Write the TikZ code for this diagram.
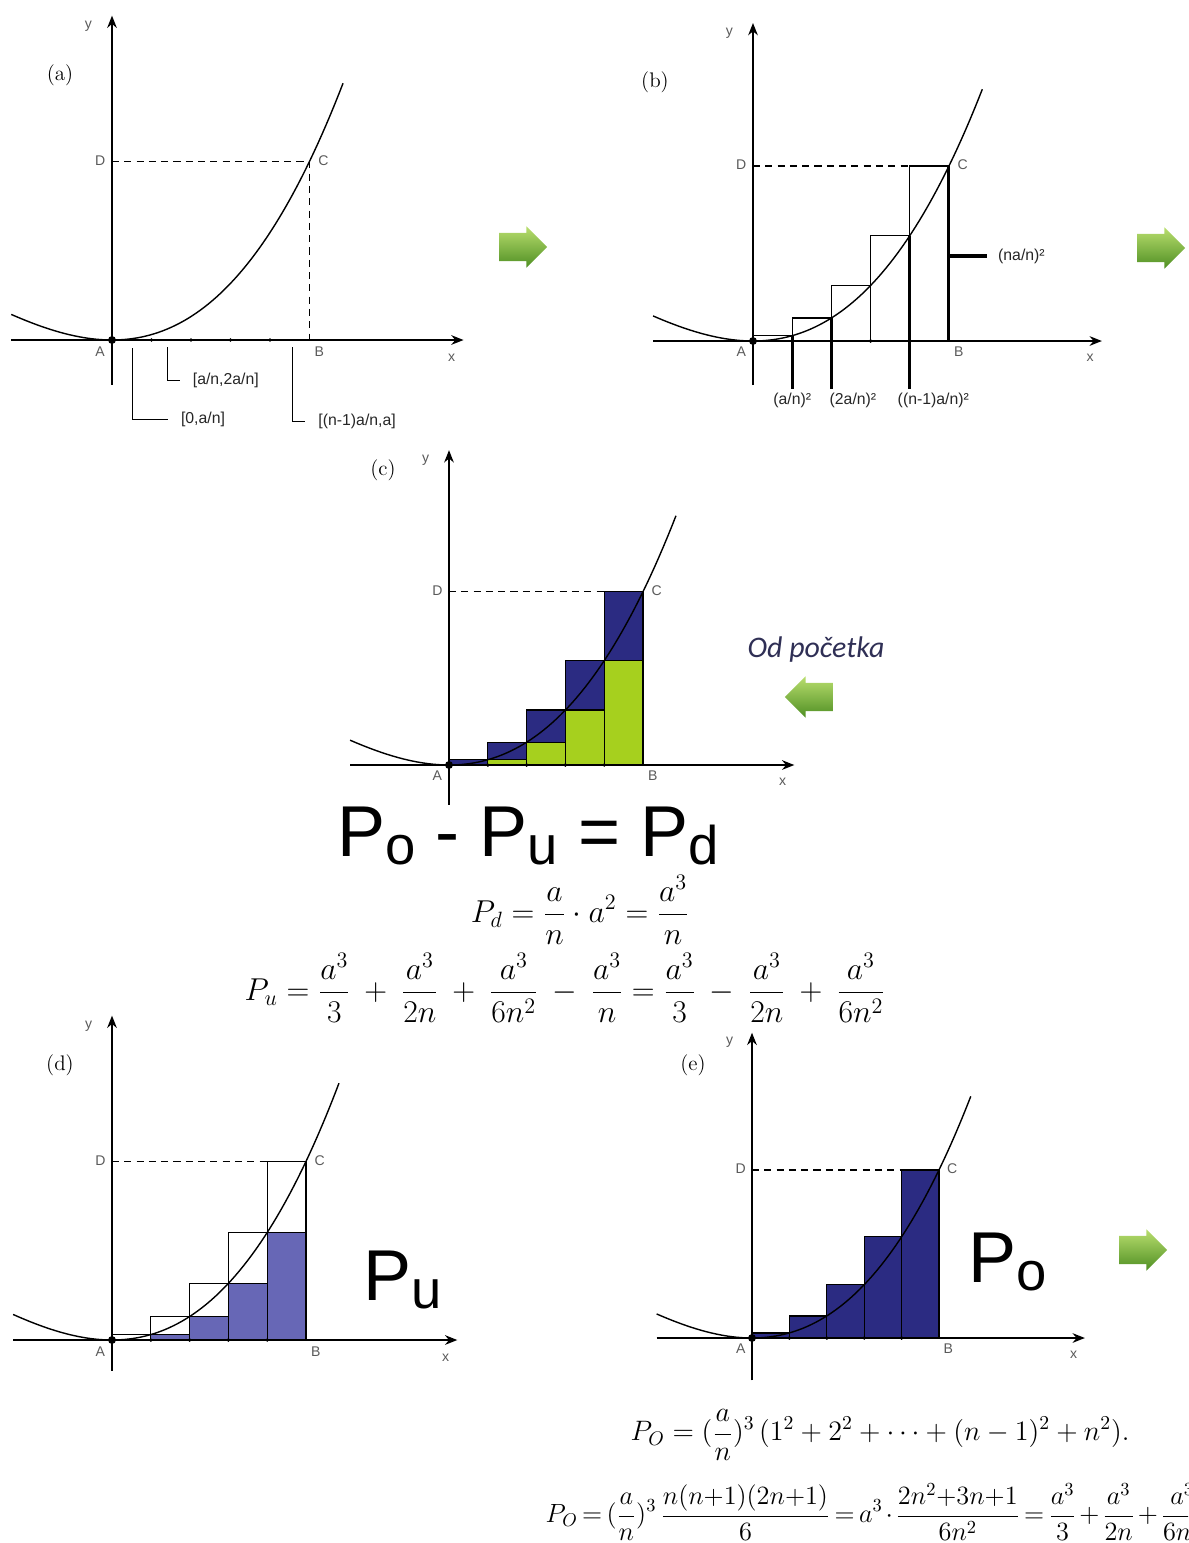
\RequirePackage{fix-cm}
\documentclass[tikz,border=0pt]{standalone}
\usepackage{fontspec}
\setsansfont{Liberation Sans}
\newfontfamily\calibri{Carlito}
\usetikzlibrary{arrows.meta, shapes.arrows}
\definecolor{cnavy}{HTML}{2B2B82}
\definecolor{clime}{HTML}{A6D01E}
\definecolor{cviolet}{HTML}{6767B6}
\definecolor{cgreen}{HTML}{4F8F23}
\definecolor{clight}{HTML}{B9DE6E}
\definecolor{cgrey}{HTML}{5A5A5A}
\definecolor{cink}{HTML}{2F2F55}
\newcommand{\lowsub}[1]{\raisebox{-0.1em}{\fontsize{31}{31}\selectfont #1}}
% axes, curve and the points A, B, C, D of one panel
\newcommand{\drawframe}[2]{%
  \coordinate (#1-A) at (0,0);
  \coordinate (#1-B) at (5,0);
  \coordinate (#1-C) at (5,{fc(5)});
  \coordinate (#1-D) at (0,{fc(5)});
  \draw[axisline] (-2.55,0) -- (8.9,0);
  \draw[axisline] (0,-#2) -- (0,318);
  \draw[curve] plot[domain=-2.55:5.85, samples=80] (\x,{fc(\x)});
  \draw[guide] (#1-D) -- (#1-C);
  \node[adot] (#1-a0) at (#1-A) {};
  \foreach \i in {1,...,4} \node[sdot] (#1-k\i) at (\i,0) {};
  \node[lbl] (#1-tA) at (-0.3,-11) {A};
  \node[lbl] (#1-tB) at (5.25,-11) {B};
  \node[lbl] (#1-tC) at (5.35,{fc(5)+1}) {C};
  \node[lbl] (#1-tD) at (-0.3,{fc(5)+1}) {D};
  \node[lbl] (#1-tx) at (8.6,-17) {x};
  \node[lbl] (#1-ty) at (-0.6,308) {y};
}
\tikzset{
  every picture/.style={line width=0.7pt},
  declare function={fc(\t)=4.92*\t*\t+0.4167*\t*\t*\t;},
  axisline/.style={-{Stealth[length=7pt, width=5.5pt]}, line width=0.8pt},
  curve/.style={line width=0.8pt},
  guide/.style={dash pattern=on 4pt off 3pt, line width=0.8pt},
  heavy/.style={line width=1.8pt},
  adot/.style={circle, fill, inner sep=0pt, minimum size=4.5pt},
  sdot/.style={circle, fill, inner sep=0pt, minimum size=2.2pt},
  lbl/.style={font=\sffamily\fontsize{8}{9}\selectfont, text=cgrey, inner sep=0pt},
  note/.style={font=\sffamily\fontsize{9}{10}\selectfont, text=black!85, inner xsep=0pt, inner ysep=2pt},
  brk/.style={note, anchor=west, inner xsep=7pt},
  tag/.style={font=\fontsize{12}{14}\selectfont},
  big/.style={font=\sffamily\fontsize{41}{42}\selectfont, inner sep=0pt},
  formula/.style={font=\fontsize{18}{20}\selectfont, inner sep=0pt},
  calib/.style={font=\calibri\itshape\fontsize{17}{20}\selectfont, text=cink},
  garrow/.style={single arrow, single arrow head extend=0.13cm, minimum height=0.96cm,
                 inner sep=0.27cm, top color=clight, bottom color=cgreen},
}

\begin{document}
\begin{tikzpicture}[x=0.02cm, y=-0.02cm]
  \clip (0,0) rectangle (1188,1543);
  % (a) curve and subintervals
  \node[tag] (ta) at (60,75) {(a)};
  \begin{scope}[shift={(112,340)}, xscale=39.5, yscale=-1.02]
    \drawframe{pa}{44}
    \draw[guide] (pa-C) -- (pa-B);
    \coordinate (pa-i1) at (0.51,-8);
    \coordinate (pa-i2) at (1.41,-7);
    \coordinate (pa-i3) at (4.57,-7);
    \node[brk] (pa-s1) at (1.42,-78) {[0,a/n]};
    \node[brk] (pa-s2) at (1.72,-40) {[a/n,2a/n]};
    \node[brk] (pa-s3) at (4.9,-80) {[(n-1)a/n,a]};
    \foreach \n in {1,2,3} \draw (pa-i\n) |- (pa-s\n.west);
  \end{scope}
  \node[garrow] (g1) at (516,247) {};
  % (b) upper rectangles
  \node[tag] (tb) at (655,82) {(b)};
  \begin{scope}[shift={(753,341)}, xscale=39.2, yscale=-1]
    \foreach \i in {1,...,5} \draw ({\i-1},0) rectangle (\i,{fc(\i)});
    \drawframe{pb}{44}
    \node[note] (pb-s1) at (1,-59) {(a/n)²};
    \node[note] (pb-s2) at (2.55,-59) {(2a/n)²};
    \node[note] (pb-s4) at (4.6,-59) {((n-1)a/n)²};
    \foreach \i in {1,2,4} {
      \coordinate (pb-q\i) at (\i,{fc(\i)});
      \draw[heavy] (pb-q\i) -- (pb-q\i |- pb-s1.north);
    }
    \draw[heavy] (pb-C) -- (pb-B);
    \coordinate (pb-N) at (5,85);
    \node[note, anchor=west, inner xsep=6pt] (pb-sn) at (5.97,85) {(na/n)²};
    \draw[heavy] (pb-N) -- (pb-sn.west);
  \end{scope}
  \node[garrow] (g2) at (1154,248) {};
  % (c) difference of the two sums
  \node[tag] (tc) at (383,470) {(c)};
  \begin{scope}[shift={(449,765)}, xscale=38.8, yscale=-0.99]
    \foreach \i in {1,...,5} \filldraw[fill=cnavy] ({\i-1},0) rectangle (\i,{fc(\i)});
    \foreach \i in {2,...,5} \filldraw[fill=clime] ({\i-1},0) rectangle (\i,{fc(\i-1)});
    \drawframe{pc}{40}
    \draw[guide] (pc-C) -- (pc-B);
  \end{scope}
  \node[calib] (od) at (816,650) {Od početka};
  \node[garrow, shape border rotate=180] (g3) at (816,697) {};
  \node[big] (diff) at (528,836) {P\lowsub{o} - P\lowsub{u} = P\lowsub{d}};
  \node[formula] (fd) at (580,910) {$\displaystyle P_d=\frac{a}{n}\cdot a^2=\frac{a^3}{n}$};
  \node[formula] (fu) at (565,988) {$\displaystyle P_u=\frac{a^3}{3}\:+\:\frac{a^3}{2n}\:+\:\frac{a^3}{6n^2}\:-\:\frac{a^3}{n}=\frac{a^3}{3}\:-\:\frac{a^3}{2n}\:+\:\frac{a^3}{6n^2}$};
  % (d) lower sum
  \node[tag] (td) at (60,1065) {(d)};
  \begin{scope}[shift={(112,1340)}, xscale=38.8, yscale=-1.02]
    \foreach \i in {2,...,5} \filldraw[fill=cviolet] ({\i-1},0) rectangle (\i,{fc(\i-1)});
    \foreach \i in {1,...,5} \draw ({\i-1},0) rectangle (\i,{fc(\i)});
    \drawframe{pd}{30}
    \draw[guide] (pd-C) -- (pd-B);
  \end{scope}
  \node[big] (pu) at (403,1280) {P\lowsub{u}};
  % (e) upper sum
  \node[tag] (te) at (693,1065) {(e)};
  \begin{scope}[shift={(752,1338)}, xscale=37.4, yscale=-0.96]
    \foreach \i in {1,...,5} \filldraw[fill=cnavy] ({\i-1},0) rectangle (\i,{fc(\i)});
    \drawframe{pe}{44}
    \draw[guide] (pe-C) -- (pe-B);
  \end{scope}
  \node[big] (po) at (1008,1262) {P\lowsub{o}};
  \node[garrow] (g4) at (1136,1250) {};
  \node[formula, font=\fontsize{16}{18}\selectfont] (fo1) at (880,1435) {$\displaystyle P_O=(\frac{a}{n})^3\,(1^2+2^2+\cdots+(n-1)^2+n^2).$};
  \node[formula, font=\fontsize{15}{17}\selectfont, anchor=west] (fo2) at (545,1512) {$\thickmuskip=3mu \medmuskip=2mu \displaystyle P_O=(\frac{a}{n})^3\,\frac{n(n{+}1)(2n{+}1)}{6}=a^3\cdot\frac{2n^2{+}3n{+}1}{6n^2}=\frac{a^3}{3}+\frac{a^3}{2n}+\frac{a^3}{6n^2}$};
\end{tikzpicture}
\end{document}
